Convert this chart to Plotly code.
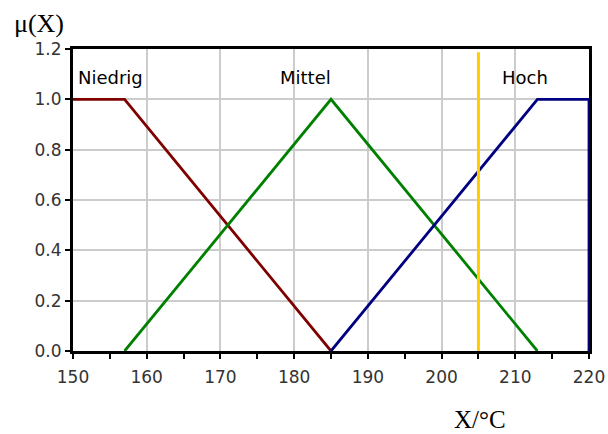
import plotly.graph_objects as go

# Membership functions of the temperature variable X
niedrig_x = [150, 157, 185]
niedrig_y = [1.0, 1.0, 0.0]
mittel_x = [157, 185, 213]
mittel_y = [0.0, 1.0, 0.0]
hoch_x = [185, 213, 220, 220]
hoch_y = [0.0, 1.0, 1.0, 0.0]
marker_x = [205, 205]
marker_y = [0.0, 1.187]

labels = ["Niedrig", "Mittel", "Hoch"]
label_x = [150.4, 181.6, 211.3]
label_anchor = ["left", "center", "center"]
label_y = [1.088, 1.088, 1.088]

fig = go.Figure()
fig.add_trace(go.Scatter(x=niedrig_x, y=niedrig_y, mode="lines",
                         line=dict(color="#800000", width=2.8)))
fig.add_trace(go.Scatter(x=mittel_x, y=mittel_y, mode="lines",
                         line=dict(color="#008000", width=2.8)))
fig.add_trace(go.Scatter(x=hoch_x, y=hoch_y, mode="lines",
                         line=dict(color="#000080", width=2.8)))
fig.add_trace(go.Scatter(x=marker_x, y=marker_y, mode="lines",
                         line=dict(color="#FFCC00", width=3)))

for t, x, y, a in zip(labels, label_x, label_y, label_anchor):
    fig.add_annotation(x=x, y=y, text=t, showarrow=False, xanchor=a, yanchor="middle",
                       font=dict(family="DejaVu Sans", size=18, color="black"))

fig.add_annotation(xref="paper", yref="paper", x=-0.118, y=1.085, text="μ(X)",
                   showarrow=False, xanchor="left", yanchor="middle",
                   font=dict(family="Liberation Serif, Times New Roman", size=26, color="black"))
fig.add_annotation(xref="paper", yref="paper", x=0.789, y=-0.228, text="X/°C",
                   showarrow=False, xanchor="center", yanchor="middle",
                   font=dict(family="Liberation Serif, Times New Roman", size=25, color="black"))

fig.update_layout(
    width=608, height=434,
    margin=dict(l=73, r=19, t=49, b=83),
    paper_bgcolor="white", plot_bgcolor="white",
    showlegend=False,
    font=dict(family="DejaVu Sans", size=17, color="#333"),
)
fig.update_xaxes(range=[150, 220], dtick=10, tick0=150, automargin=False,
                 ticklabelstandoff=4,
                 showgrid=True, gridcolor="#cccccc", gridwidth=1.5,
                 showline=True, linecolor="black", linewidth=3, mirror=True,
                 ticks="outside", ticklen=5, tickwidth=2, tickcolor="black",
                 minor=dict(dtick=5, tick0=150, ticks="outside", ticklen=5,
                            tickwidth=2, tickcolor="black", showgrid=False),
                 zeroline=False)
fig.update_yaxes(range=[0, 1.2], dtick=0.2, tickformat=".1f", automargin=False,
                 showgrid=True, gridcolor="#cccccc", gridwidth=1.5,
                 showline=True, linecolor="black", linewidth=3, mirror=True,
                 ticks="outside", ticklen=5, tickwidth=2, tickcolor="black",
                 zeroline=False)

fig.write_html("out.html")
